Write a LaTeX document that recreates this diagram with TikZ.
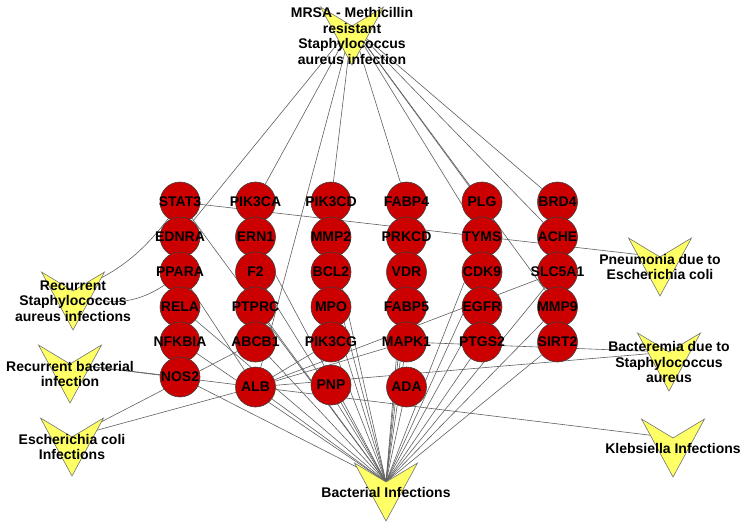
\documentclass[tikz,border=0pt]{standalone}
\usepackage{fontspec}
\setmainfont{Liberation Sans}
\usetikzlibrary{positioning}
\pgfdeclarelayer{background}
\pgfsetlayers{background,main}

\definecolor{genered}{RGB}{204,0,0}
\definecolor{disyellow}{RGB}{255,255,102}
\definecolor{linkgray}{RGB}{95,95,95}

\newcommand{\genefont}{\bfseries\fontsize{14}{15.5}\selectfont}
% disease node: name, centre, label
\newcommand{\disnode}[3]{%
  \filldraw[dis_shape] (#2) ++(-31.5,-29) -- ++(31.5,19) -- ++(31.5,-19) -- ++(-31.5,58) -- cycle;
  \path (#2) ++(0,-10) coordinate (#1);
  \node[dis_label] (#1_text) at (#2) {#3};
}

\begin{document}
\begin{tikzpicture}[x=1pt, y=-1pt, node distance=35pt]
\tikzstyle{gene_text}=[inner sep=0pt, font=\genefont]
\tikzstyle{gene}=[circle, draw=black!75, fill=genered, line width=0.6pt, minimum size=40pt, inner sep=0pt, label={[gene_text]center:#1}]
\tikzstyle{dis_shape}=[fill=disyellow, draw=black!55, line width=0.6pt]
\tikzstyle{dis_label}=[align=center, inner sep=0pt, font=\genefont]
\tikzstyle{every edge}=[draw, linkgray, line width=0.6pt]
\useasboundingbox (0,0) rectangle (748,530);
%
\disnode{mrsa}{352,36}{MRSA - Methicillin\\resistant\\Staphylococcus\\aureus infection}
\disnode{rs}{73,301}{Recurrent\\Staphylococcus\\aureus infections}
\disnode{rb}{70,374}{Recurrent bacterial\\infection}
\disnode{ec}{72,447}{Escherichia coli\\Infections}
\disnode{pn}{660,267}{Pneumonia due to\\Escherichia coli}
\disnode{ba}{669,362}{Bacteremia due to\\Staphylococcus\\aureus}
\disnode{kl}{673,448}{Klebsiella Infections}
\disnode{bi}{386,492}{Bacterial Infections}
%
\node [gene=STAT3] (stat3) at (180,202) {};
\node [gene=EDNRA] (ednra) [below of=stat3] {};
\node [gene=PPARA] (ppara) [below of=ednra] {};
\node [gene=RELA] (rela) [below of=ppara] {};
\node [gene=NFKBIA] (nfkbia) [below of=rela] {};
\node [gene=NOS2] (nos2) [below of=nfkbia] {};
%
\node [gene=PIK3CA] (pik3ca) [right of=stat3, node distance=75.5pt] {};
\node [gene=ERN1] (ern1) [below of=pik3ca] {};
\node [gene=F2] (f2) [below of=ern1] {};
\node [gene=PTPRC] (ptprc) [below of=f2] {};
\node [gene=ABCB1] (abcb1) [below of=ptprc] {};
\node [gene=ALB] (alb) [below of=abcb1, node distance=45pt] {};
%
\node [gene=PIK3CD] (pik3cd) [right of=pik3ca, node distance=75.5pt] {};
\node [gene=MMP2] (mmp2) [below of=pik3cd] {};
\node [gene=BCL2] (bcl2) [below of=mmp2] {};
\node [gene=MPO] (mpo) [below of=bcl2] {};
\node [gene=PIK3CG] (pik3cg) [below of=mpo] {};
\node [gene=PNP] (pnp) [below of=pik3cg, node distance=43pt] {};
%
\node [gene=FABP4] (fabp4) [right of=pik3cd, node distance=75.5pt] {};
\node [gene=PRKCD] (prkcd) [below of=fabp4] {};
\node [gene=VDR] (vdr) [below of=prkcd] {};
\node [gene=FABP5] (fabp5) [below of=vdr] {};
\node [gene=MAPK1] (mapk1) [below of=fabp5] {};
\node [gene=ADA] (ada) [below of=mapk1, node distance=45pt] {};
%
\node [gene=PLG] (plg) [right of=fabp4, node distance=75.5pt] {};
\node [gene=TYMS] (tyms) [below of=plg] {};
\node [gene=CDK9] (cdk9) [below of=tyms] {};
\node [gene=EGFR] (egfr) [below of=cdk9] {};
\node [gene=PTGS2] (ptgs2) [below of=egfr] {};
%
\node [gene=BRD4] (brd4) [right of=plg, node distance=75.5pt] {};
\node [gene=ACHE] (ache) [below of=brd4] {};
\node [gene=SLC5A1] (slc5a1) [below of=ache] {};
\node [gene=MMP9] (mmp9) [below of=slc5a1] {};
\node [gene=SIRT2] (sirt2) [below of=mmp9] {};
%
\begin{pgfonlayer}{background}
\path (mrsa) edge (ednra) edge (pik3ca) edge (alb) edge (pik3cd) edge (fabp4)
	edge (plg) edge (tyms) edge (ache) edge (brd4) edge (mmp9);
\path (rs) edge [bend right=15] (stat3) edge [bend right=30] (ppara);
\path (rb) edge (nos2) edge (alb);
\path (ec) edge (abcb1) edge (alb);
\path (pn) edge (stat3);
\path (ba) edge (mapk1) edge (alb);
\path (kl) edge (alb);
\path (bi) edge (stat3) edge (rela) edge (nfkbia) edge (nos2) edge (alb)
	edge (ptprc) edge (abcb1) edge (ern1) edge (f2) edge (bcl2) edge (mpo)
	edge (pik3cg) edge (pnp) edge (mmp2) edge (vdr) edge (fabp5) edge (mapk1)
	edge (ada) edge (prkcd) edge (cdk9) edge (tyms) edge (egfr) edge (ptgs2)
	edge (mmp9) edge (sirt2) edge (slc5a1);
\path (alb) edge (ppara) edge (pik3cg) edge (slc5a1) edge (mapk1);
\end{pgfonlayer}
\end{tikzpicture}
\end{document}
